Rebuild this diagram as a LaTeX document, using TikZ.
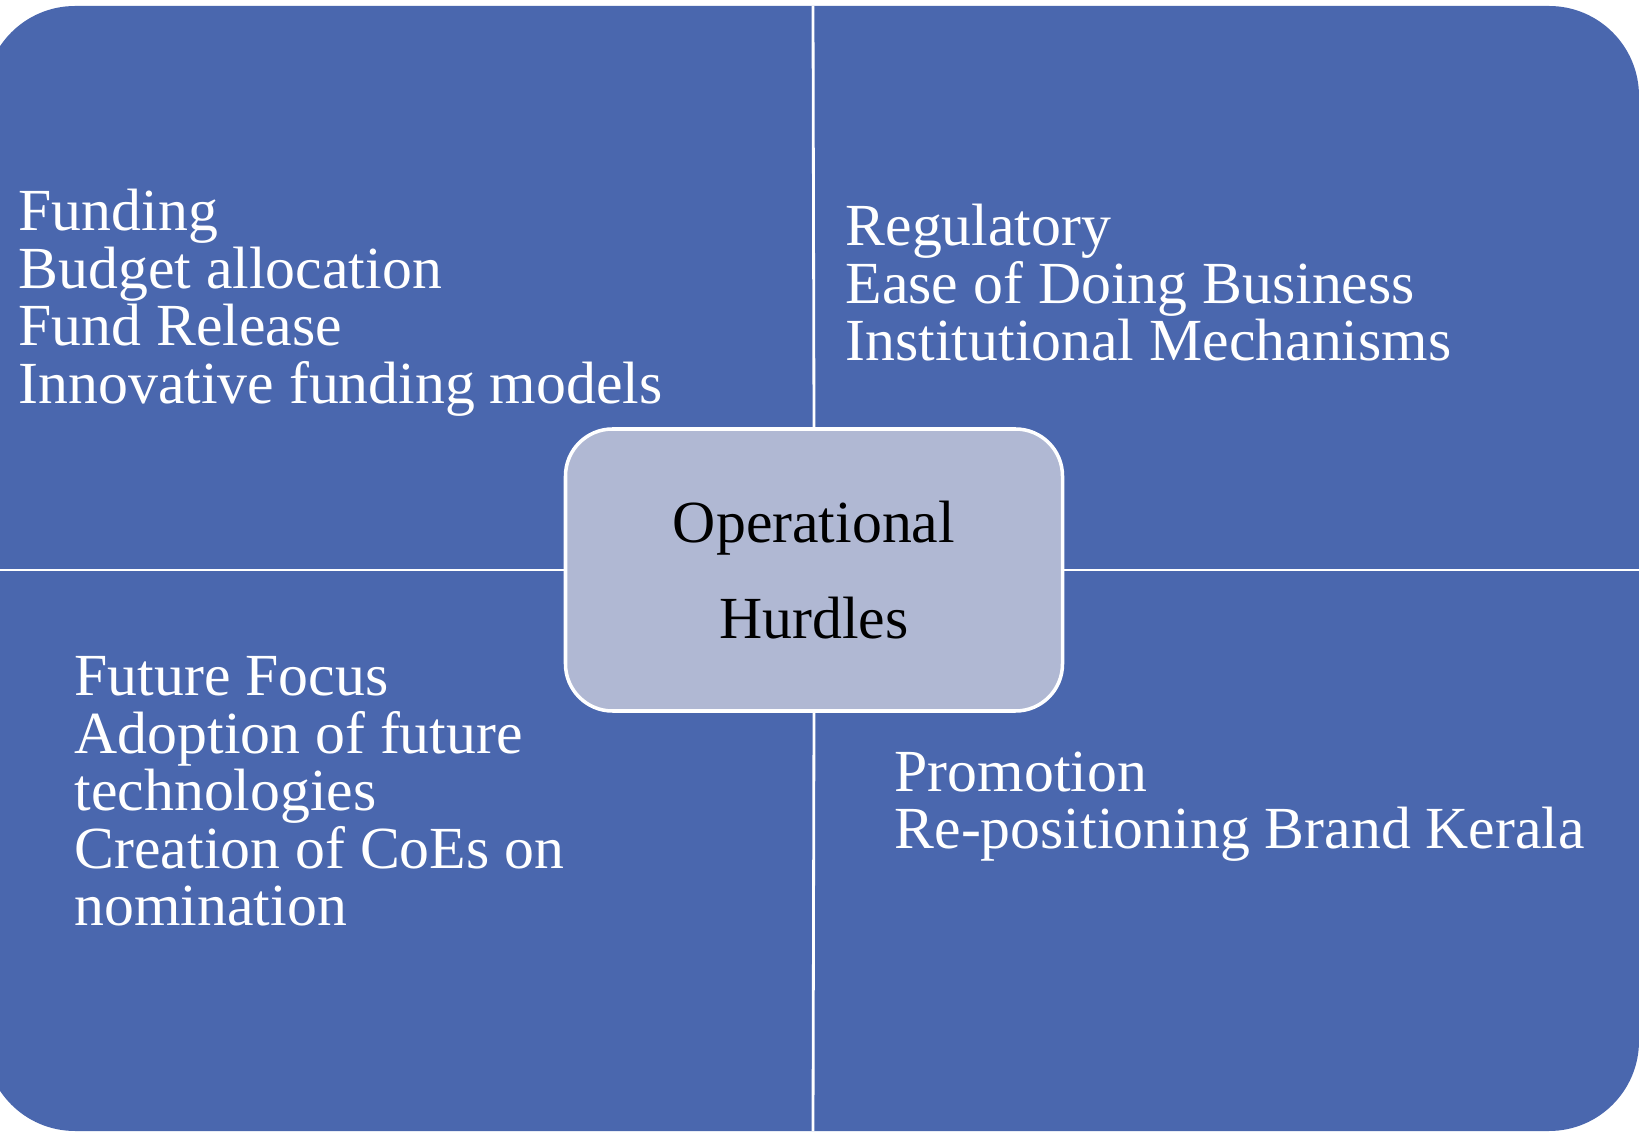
\documentclass[tikz,border=0pt]{standalone}
\usepackage{fontspec}
\setmainfont{Liberation Serif}
\definecolor{quadblue}{RGB}{74,103,174}
\definecolor{hubgrey}{RGB}{176,184,211}
\tikzset{
  quadtext/.style={text=white, align=left, anchor=base west, inner sep=0pt, font=\fontsize{17}{16.4}\selectfont},
  divider/.style={draw=white, line width=0.8pt},
  hubbox/.style={fill=hubgrey, draw=white, line width=1pt, rounded corners=0.47cm, minimum width=4.97cm, minimum height=2.82cm, align=center, font=\fontsize{17}{16.4}\selectfont}
}
\begin{document}
\begin{tikzpicture}
  \useasboundingbox (0,0) rectangle (16.39,11.31);
  \fill[quadblue, rounded corners=0.9cm] (-0.15,0) rectangle (16.39,11.25);
  \coordinate (divtop) at (8.13,11.25);
  \coordinate (divbot) at (8.13,0);
  \coordinate (divleft) at (-0.15,5.61);
  \coordinate (divright) at (16.39,5.61);
  \node[hubbox] (hub) at (8.14,5.61) {Operational\\[11pt]Hurdles};
  \draw[divider] (hub.north) -- (divtop);
  \draw[divider] (hub.south) -- (divbot);
  \draw[divider] (hub.west) -- (divleft);
  \draw[divider] (hub.east) -- (divright);
  % base anchor sits on the last line
  \node[quadtext] (funding) at (0.18,7.275) {Funding\\Budget allocation\\Fund Release\\Innovative funding models};
  \node[quadtext] (regulatory) at (8.45,7.70) {Regulatory\\Ease of Doing Business\\Institutional Mechanisms};
  \node[quadtext] (future) at (0.74,2.05) {Future Focus\\Adoption of future\\technologies\\Creation of CoEs on\\nomination};
  \node[quadtext] (promotion) at (8.94,2.82) {Promotion\\Re-positioning Brand Kerala};
\end{tikzpicture}
\end{document}
